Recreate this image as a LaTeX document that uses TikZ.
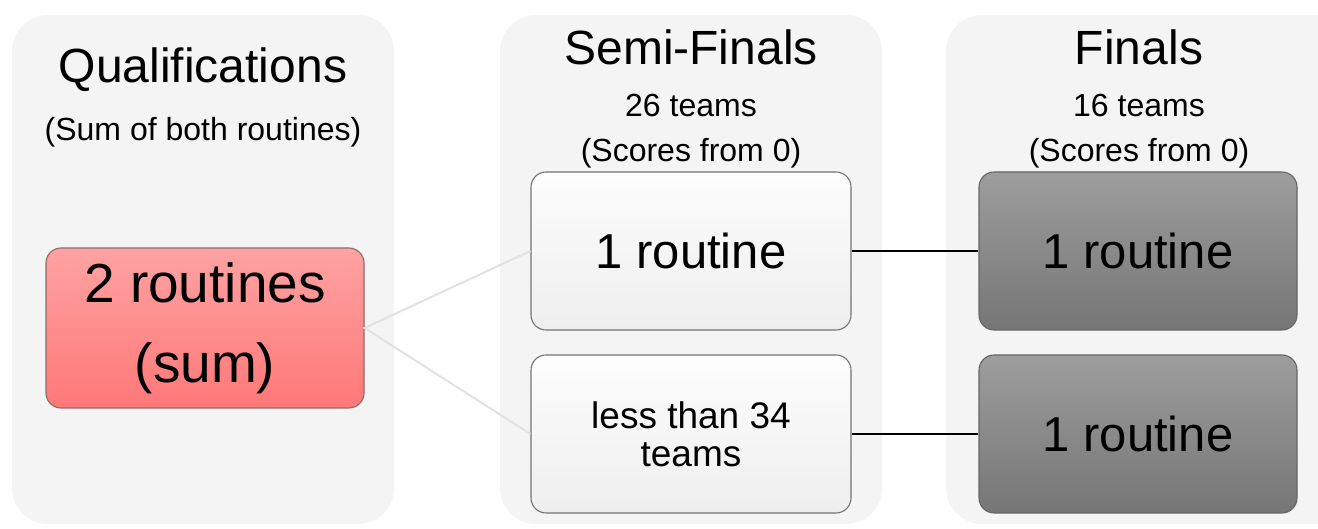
\documentclass[tikz,border=0pt]{standalone}
\usepackage{fontspec}
\setmainfont{Liberation Sans}
\usetikzlibrary{positioning}
\definecolor{colorBG}{HTML}{F4F4F4}
\definecolor{colorQtop}{HTML}{FFA2A2}
\definecolor{colorQbot}{HTML}{FF7878}
\definecolor{colorQline}{HTML}{8E6A6A}
\definecolor{colorStop}{HTML}{FDFDFD}
\definecolor{colorSbot}{HTML}{EEEEEE}
\definecolor{colorFtop}{HTML}{9D9D9D}
\definecolor{colorFbot}{HTML}{767676}
\definecolor{colorLink}{HTML}{E2E2E2}

\begin{document}
\begin{tikzpicture}[x=1pt,y=1pt,
    panel/.style={fill=colorBG, rounded corners=36pt},
    stage/.style={draw=gray!90!black, line width=1.1pt, rounded corners=15pt,
        minimum width=320pt, minimum height=158pt, inner sep=0pt, align=center},
    title/.style={inner sep=0pt, font=\fontsize{48}{56}\selectfont},
    note/.style={inner sep=0pt, font=\fontsize{32}{38}\selectfont}]
        \clip (0,0) rectangle (1318,529);
        \useasboundingbox (0,0) rectangle (1318,529);

        % background columns
        \fill[panel] (12,5) rectangle (394,514);
        \fill[panel] (500,5) rectangle (882,514);
        \fill[panel] (946,5) rectangle (1360,514);

        % qualifications
        \node[title] (qual) at (203,459) {Qualifications};
        \node[note] (qualsub) at (203,397) {(Sum of both routines)};
        \node[stage, minimum width=318pt, minimum height=160pt, draw=colorQline,
            top color=colorQtop, bottom color=colorQbot,
            font=\fontsize{55}{80}\selectfont] (q) at (205,201) {2 routines\\(sum)};

        % semi-finals
        \node[title] (semi) at (691,482) {Semi-Finals};
        \node[note] (semiteams) at (691,424) {26 teams};
        \node[note] (semiscore) at (691,376) {(Scores from 0)};
        \node[stage, top color=colorStop, bottom color=colorSbot,
            font=\fontsize{49}{56}\selectfont] (s1) at (691,278) {1 routine};
        \node[stage, top color=colorStop, bottom color=colorSbot,
            font=\fontsize{37}{38}\selectfont] (s2) at (691,95) {less than 34\\teams};

        % finals
        \node[title] (fin) at (1139,482) {Finals};
        \node[note] (finteams) at (1139,424) {16 teams};
        \node[note] (finscore) at (1139,376) {(Scores from 0)};
        \node[stage, minimum width=318pt, draw=black!60, top color=colorFtop, bottom color=colorFbot,
            font=\fontsize{49}{56}\selectfont] (f1) at (1138,278) {1 routine};
        \node[stage, minimum width=318pt, draw=black!60, top color=colorFtop, bottom color=colorFbot,
            font=\fontsize{49}{56}\selectfont] (f2) at (1138,95) {1 routine};

        % links
        \draw[colorLink, line width=2pt] (s1.west) -- (q.east) -- (s2.west);
        \draw[black, line width=2pt] (s1) -- (f1);
        \draw[black, line width=2pt] (s2) -- (f2);
    \end{tikzpicture}
\end{document}
